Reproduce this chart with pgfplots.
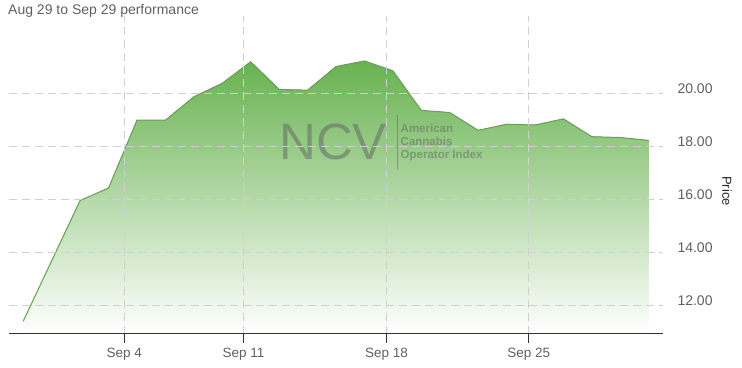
\documentclass[border=0pt]{standalone}
\usepackage{pgfplots}
\pgfplotsset{compat=1.18}
\usepgfplotslibrary{fillbetween}
\usepackage{fontspec}
\setmainfont{Liberation Sans}
\definecolor{areatop}{RGB}{104,178,80}
\definecolor{linegreen}{RGB}{96,166,74}
\definecolor{gridgray}{RGB}{208,208,208}
\definecolor{axisgray}{RGB}{51,51,51}
\definecolor{labelgray}{RGB}{96,96,96}
\definecolor{wm}{RGB}{95,100,95}

\begin{document}
\begin{tikzpicture}
\begin{axis}[
  at={(9pt,33pt)}, anchor=south west,
  scale only axis, width=654pt, height=318pt,
  xmin=-0.5, xmax=22.5, ymin=10.94, ymax=22.9,
  axis on top,
  axis x line*=bottom, axis y line*=right,
  y axis line style={draw=none},
  x axis line style={axisgray, line width=1pt, -},
  xtick={3.555,7.744,12.777,17.775},
  xticklabels={Sep 4,Sep 11,Sep 18,Sep 25},
  xtick align=outside, ytick align=inside,
  major tick length=9pt,
  xtick style={axisgray, line width=1pt},
  ytick={12,14,16,18,20},
  ytick style={draw=none},
  grid=major,
  major grid style={gridgray, line width=1pt, dash pattern=on 8pt off 5pt},
  /pgf/number format/assume math mode=true,
  yticklabel style={/pgf/number format/fixed, /pgf/number format/fixed zerofill, /pgf/number format/precision=2, anchor=base west, xshift=11pt, font=\fontsize{14}{16}\selectfont},
  xticklabel style={yshift=-2pt, font=\fontsize{13.5}{16}\selectfont},
  ticklabel style={text=labelgray},
]
\addplot[draw=none, name path=price] coordinates {
(0,11.42) (2,15.96) (3,16.43) (4,18.98) (5,18.98) (6,19.86) (7,20.37) (8,21.18)
(9,20.14) (10,20.11) (11,21.00) (12,21.21) (13,20.84) (14,19.35) (15,19.27)
(16,18.60) (17,18.83) (18,18.80) (19,19.03) (20,18.36) (21,18.33) (22,18.22)};
\addplot[draw=none, name path=base] coordinates {(0,10.94) (22,10.94)};
\addplot[top color=areatop, bottom color=white, draw=none] fill between[of=price and base];
\addplot[linegreen, line width=1pt] coordinates {
(0,11.42) (2,15.96) (3,16.43) (4,18.98) (5,18.98) (6,19.86) (7,20.37) (8,21.18)
(9,20.14) (10,20.11) (11,21.00) (12,21.21) (13,20.84) (14,19.35) (15,19.27)
(16,18.60) (17,18.83) (18,18.80) (19,19.03) (20,18.36) (21,18.33) (22,18.22)};
\end{axis}
% watermark
\node[anchor=base west, inner sep=0, font=\fontsize{51}{51}\selectfont, text=wm, opacity=0.5] at (279pt,207pt) {NCV};
\draw[wm, opacity=0.5, line width=1pt] (397pt,252pt) -- (397pt,198pt);
\node[anchor=base west, inner sep=0, font=\fontsize{11.5}{13}\selectfont\bfseries, text=wm, opacity=0.5] at (400.5pt,234.7pt) {American};
\node[anchor=base west, inner sep=0, font=\fontsize{11.5}{13}\selectfont\bfseries, text=wm, opacity=0.5] at (400.5pt,221.5pt) {Cannabis};
\node[anchor=base west, inner sep=0, font=\fontsize{11.5}{13}\selectfont\bfseries, text=wm, opacity=0.5] at (400.5pt,208.5pt) {Operator Index};
% title and axis title
\node[anchor=base west, inner sep=0, font=\fontsize{14}{16}\selectfont, text=labelgray] at (8pt,352pt) {Aug 29 to Sep 29 performance};
\node[rotate=-90, inner sep=0, font=\fontsize{13}{15}\selectfont, text=black!85] at (727pt,176pt) {Price};
\pgfresetboundingbox
\path (0pt,0pt) rectangle (742pt,367pt);
\end{tikzpicture}
\end{document}
